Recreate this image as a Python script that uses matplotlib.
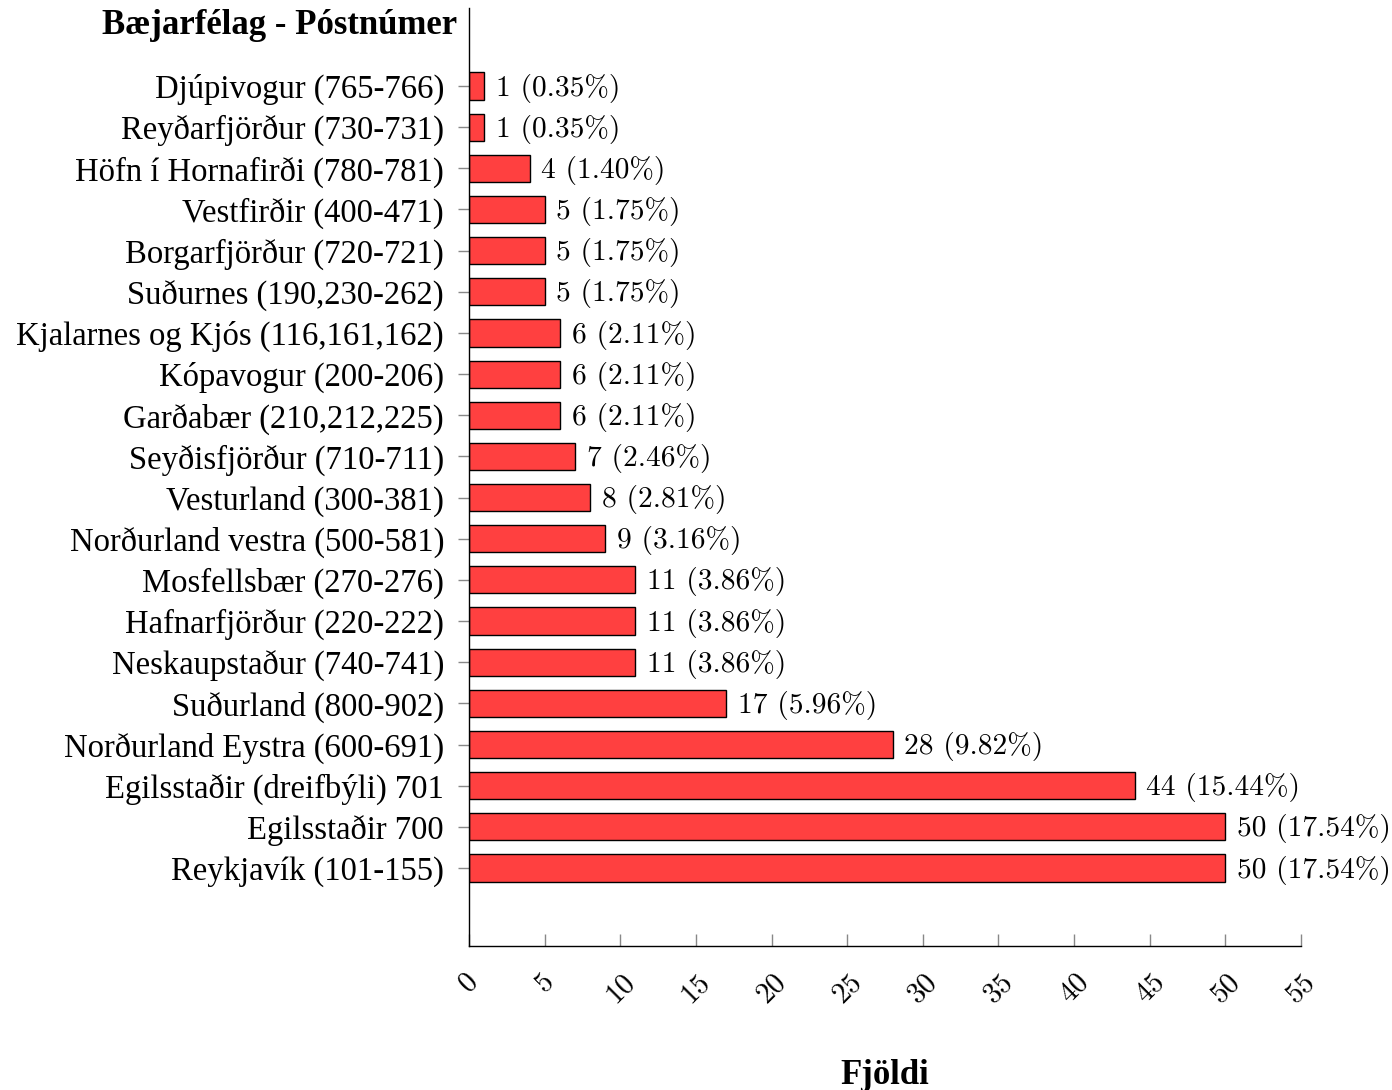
import matplotlib
matplotlib.use("Agg")
import matplotlib.pyplot as plt

categories = [
    "Reykjavík (101-155)",
    "Egilsstaðir 700",
    "Egilsstaðir (dreifbýli) 701",
    "Norðurland Eystra (600-691)",
    "Suðurland (800-902)",
    "Neskaupstaður (740-741)",
    "Hafnarfjörður (220-222)",
    "Mosfellsbær (270-276)",
    "Norðurland vestra (500-581)",
    "Vesturland (300-381)",
    "Seyðisfjörður (710-711)",
    "Garðabær (210,212,225)",
    "Kópavogur (200-206)",
    "Kjalarnes og Kjós (116,161,162)",
    "Suðurnes (190,230-262)",
    "Borgarfjörður (720-721)",
    "Vestfirðir (400-471)",
    "Höfn í Hornafirði (780-781)",
    "Reyðarfjörður (730-731)",
    "Djúpivogur (765-766)",
]
values = [50, 50, 44, 28, 17, 11, 11, 11, 9, 8, 7, 6, 6, 6, 5, 5, 5, 4, 1, 1]
xticks = [0, 5, 10, 15, 20, 25, 30, 35, 40, 45, 50, 55]
ylabel_text = "Bæjarfélag - Póstnúmer"
xlabel_text = "Fjöldi"

NUMFONT = ["cmr10", "Liberation Serif"]
TXTFONT = ["Liberation Serif"]
FS_NUM = 21.2
FS_TXT = 23.5
FS_BOLD = 25

fig = plt.figure(figsize=(13.92, 10.90), dpi=100)
ax = fig.add_axes([469/1392, 1-946/1090, (1301-469)/1392, (946-8)/1090])

total = sum(values)
ypos = list(range(len(categories)))
ax.barh(ypos, values, height=0.66, color="#FF4040", edgecolor="black", linewidth=1.0)
for y, v in zip(ypos, values):
    ax.annotate(f"{v} ({100*v/total:.2f}%)", xy=(v, y), xytext=(8.5, -1.5),
                textcoords="offset points", va="center", ha="left",
                fontsize=FS_NUM, family=NUMFONT, annotation_clip=False)

ax.set_xlim(0, 55)
ax.set_ylim(-1.895, len(categories) - 1 + 1.895)
ax.set_yticks(ypos)
ax.set_yticklabels(categories, fontsize=FS_TXT, family=TXTFONT)
ax.set_xticks(xticks)
ax.set_xticklabels([str(t) for t in xticks], fontsize=FS_NUM, family=NUMFONT, rotation=45,
                   ha="center", va="top")
ax.tick_params(axis="y", direction="out", length=8, color="#888888", width=1, pad=10)
ax.tick_params(axis="x", direction="in", length=9, color="#888888", width=1, pad=16)
for s in ["top", "right"]:
    ax.spines[s].set_visible(False)
for s in ["left", "bottom"]:
    ax.spines[s].set_linewidth(1.0)

fig.text(457/1392, 1-25/1090, ylabel_text, ha="right", va="center", fontsize=FS_BOLD,
         family=TXTFONT, fontweight="bold")
fig.text(885/1392, 1-1075/1090, xlabel_text, ha="center", va="center", fontsize=FS_BOLD,
         family=TXTFONT, fontweight="bold")

fig.savefig("out.png", dpi=100)
